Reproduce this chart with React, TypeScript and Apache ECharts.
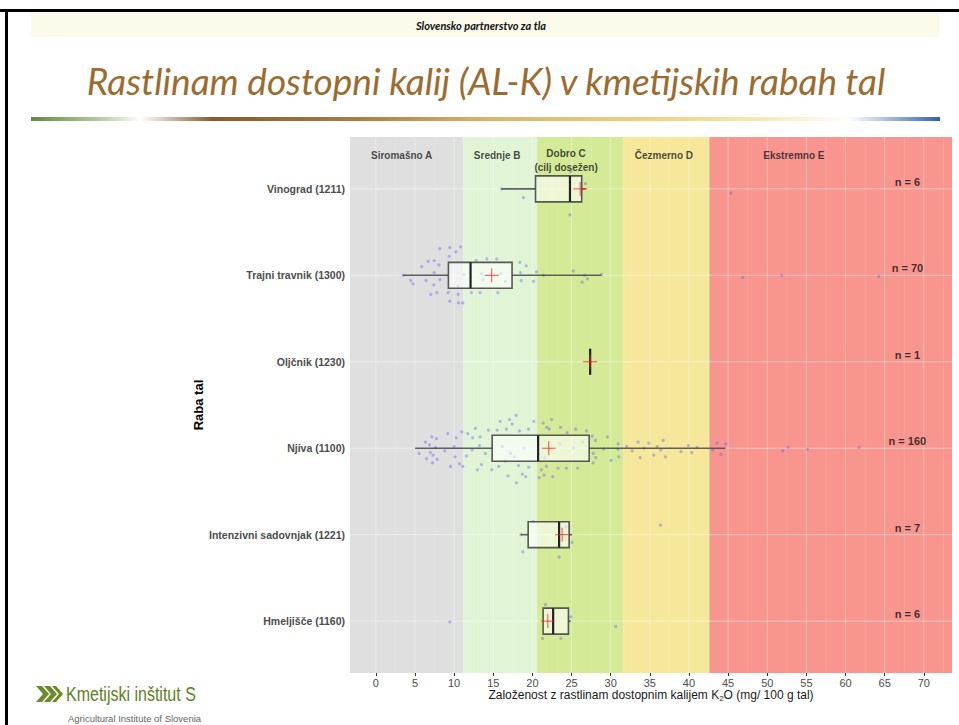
import React, { useEffect, useRef } from "react";
import * as echarts from "echarts";

// ---------- DATA ----------
const categories = [
  "Vinograd (1211)",
  "Trajni travnik (1300)",
  "Oljčnik (1230)",
  "Njiva (1100)",
  "Intenzivni sadovnjak (1221)",
  "Hmeljišče (1160)",
];
const countLabels = ["n = 6", "n = 70", "n = 1", "n = 160", "n = 7", "n = 6"];

// [lower whisker, Q1, median, Q3, upper whisker]
const boxStats = [
  [16.05, 20.4, 24.8, 26.3, 26.8],
  [3.5, 9.27, 12.1, 17.4, 28.8],
  [27.38, 27.38, 27.38, 27.38, 27.38],
  [5.02, 14.86, 20.73, 27.25, 44.66],
  [18.52, 19.46, 23.41, 24.69, 25.07],
  [21.37, 21.37, 22.65, 24.6, 24.9],
];
const means = [26.1, 14.8, 27.38, 22.09, 23.8, 21.97];

// jittered sample points: [value, vertical jitter in category units]
const vinogradPts = [[16.05, 0.0], [18.86, 0.1], [24.78, 0.3], [26.78, -0.06], [45.34, 0.05], [24.9, -0.2]];
const trajniPts = [
  [8.17, -0.31], [9.45, -0.32], [10.22, -0.27], [10.82, -0.33], [9.36, -0.22], [6.68, -0.16], [7.45, -0.17],
  [8.05, -0.12], [5.87, -0.1], [7.45, -0.03], [4.47, 0.06], [4.76, 0.1], [6.42, 0.06], [8.17, 0.05], [7.41, 0.11],
  [11.24, -0.01], [10.51, 0.13], [7.02, 0.22], [7.79, 0.2], [9.23, 0.2], [10.51, 0.22], [12.22, 0.2], [13.32, 0.2],
  [15.58, 0.2], [12.81, -0.17], [14.18, -0.19], [15.45, -0.19], [13.5, -0.02], [15.96, -0.02], [13.7, 0.05],
  [16.56, 0.07], [18.39, -0.15], [19.2, -0.11], [18.48, -0.03], [20.52, -0.04], [21.42, 0.0], [18.56, 0.06],
  [20.14, 0.07], [25.2, -0.05], [26.69, 0.0], [27.04, 0.04], [26.35, 0.08], [28.83, -0.01], [3.49, 0.0],
  [9.45, 0.3], [10.56, 0.32], [11.11, 0.32], [46.87, 0.02], [51.85, 0.0], [64.24, 0.01],
];
const oljcnikPts = [[27.38, 0.0]];
const njivaPts = [
  [5.53, 0.06], [6.34, -0.07], [6.86, -0.04], [7.15, -0.13], [7.75, -0.11], [6.98, 0.05], [6.47, 0.12],
  [7.83, 0.13], [7.32, 0.08], [7.24, 0.17], [7.62, -0.01], [8.81, 0.03], [9.19, -0.17], [10.0, -0.02],
  [10.26, -0.12], [10.13, 0.1], [9.54, 0.21], [10.68, 0.18], [11.11, 0.21], [10.98, -0.19], [11.58, 0.09],
  [11.75, -0.17], [12.38, -0.12], [12.3, 0.02], [12.72, -0.23], [13.32, -0.13], [13.24, -0.03], [13.49, 0.19],
  [12.98, 0.25], [14.0, 0.06], [14.39, -0.21], [14.81, 0.25], [15.88, -0.31], [15.49, -0.21], [16.68, -0.22],
  [17.07, -0.33], [17.41, -0.28], [17.92, -0.38], [18.35, -0.2], [19.5, -0.22], [20.18, -0.31], [16.51, 0.15],
  [15.71, 0.21], [16.89, 0.32], [17.96, 0.4], [18.21, 0.2], [18.72, 0.3], [19.53, 0.22], [19.15, 0.33],
  [20.85, 0.34], [21.15, 0.25], [21.79, 0.21], [21.49, 0.31], [22.6, 0.33], [23.28, 0.23], [24.34, 0.23],
  [25.79, 0.23], [21.38, -0.29], [21.85, -0.24], [22.45, -0.33], [22.15, -0.22], [23.58, -0.24], [24.43, -0.18],
  [25.54, -0.22], [26.91, -0.2], [27.63, -0.14], [28.05, -0.09], [27.76, 0.06], [28.1, 0.11], [27.76, 0.17],
  [29.12, 0.01], [29.59, -0.13], [30.06, 0.14], [30.95, -0.05], [30.91, 0.01], [31.03, 0.1], [32.05, -0.02],
  [32.74, 0.03], [33.5, -0.07], [33.76, 0.11], [34.27, 0.0], [34.87, -0.06], [35.5, 0.08], [35.93, -0.02],
  [36.4, 0.02], [36.7, -0.09], [36.99, 0.1], [38.99, 0.04], [39.93, -0.03], [40.36, 0.05], [41.04, -0.01],
  [16.14, -0.02], [17.2, 0.06], [18.94, 0.0], [17.71, 0.1], [25.24, 0.0], [23.5, -0.05], [26.45, -0.07],
  [21.58, 0.11], [43.6, -0.06], [44.7, -0.05], [43.04, 0.02], [44.06, 0.07], [51.98, 0.03], [52.66, -0.01],
  [55.13, 0.01], [61.73, -0.01],
];
const intenzivniPts = [[20.09, -0.15], [18.77, 0.2], [23.41, 0.26], [25.07, 0.09], [24.27, -0.09], [36.36, -0.11], [18.52, 0.0]];
const hmeljPts = [[21.67, -0.19], [24.9, -0.05], [21.29, 0.2], [23.63, 0.2], [9.45, 0.01], [30.65, 0.06]];
const pointsByCategory = [vinogradPts, trajniPts, oljcnikPts, njivaPts, intenzivniPts, hmeljPts];

// classes (bands) along the x axis
const xMin = -3.3;
const xMax = 73.6;
const bandNames = ["Siromašno A", "Srednje B", "Dobro C\n(cilj dosežen)", "Čezmerno D", "Ekstremno E"];
const bandRanges = [[xMin, 11.2], [11.2, 20.6], [20.6, 31.6], [31.6, 42.6], [42.6, xMax]];
const bandLabelX = [3.3, 15.5, 24.3, 36.8, 53.4];
const bandLabelY = [0.61, 0.61, 0.67, 0.61, 0.61];

const xTicks = [0, 5, 10, 15, 20, 25, 30, 35, 40, 45, 50, 55, 60, 65, 70];
const xMinorGrid = [2.5, 7.5, 12.5, 17.5, 22.5, 27.5, 32.5, 37.5, 42.5, 47.5, 52.5, 57.5, 62.5, 67.5, 72.5];
const yTicks = [1, 2, 3, 4, 5, 6];
const yMin = 0.4;
const yMax = 6.6;
const countLabelX = 67.9;
const countLabelDy = -0.08;

// ---------- STYLE ----------
const bandColors = ["#DFDFDF", "#E1F5D6", "#D4EA97", "#F6E79B", "#F7958E"];
const FONT = "'Liberation Sans', Arial, sans-serif";

export default function App() {
  const ref = useRef<HTMLDivElement>(null);

  useEffect(() => {
    if (!ref.current) return;
    const chart = echarts.init(ref.current, null, { renderer: "svg" });

    const pointData: number[][] = [];
    pointsByCategory.forEach((pts, i) => {
      pts.forEach((p) => pointData.push([p[0], i + 1 + p[1]]));
    });

    const option: any = {
      animation: false,
      backgroundColor: "#ffffff",
      grid: { left: 350, right: 7, top: 137, bottom: 52, containLabel: false },
      xAxis: {
        type: "value",
        min: xMin,
        max: xMax,
        axisLine: { show: false },
        splitLine: { show: false },
        axisTick: { show: true, customValues: xTicks, length: 3, lineStyle: { color: "#333333" } },
        axisLabel: { customValues: xTicks, color: "#4D4D4D", fontSize: 11, margin: 4, fontFamily: FONT },
        name: "Založenost z rastlinam dostopnim kalijem K{sub|2}O (mg/ 100 g tal)",
        nameLocation: "middle",
        nameGap: 15,
        nameMoveOverlap: false,
        nameTextStyle: {
          color: "#1A1A1A",
          fontSize: 12,
          fontFamily: FONT,
          lineHeight: 14,
          rich: { sub: { fontSize: 8, fontFamily: FONT, color: "#1A1A1A", padding: [6, 0, 0, 0] } },
        },
      },
      yAxis: {
        type: "value",
        min: yMin,
        max: yMax,
        inverse: true,
        axisLine: { show: false },
        splitLine: { show: false },
        axisTick: { show: true, customValues: yTicks, length: 3, lineStyle: { color: "#333333" } },
        axisLabel: {
          customValues: yTicks,
          formatter: (v: number) => categories[Math.round(v) - 1] ?? "",
          color: "#4D4D4D",
          fontSize: 10.5,
          fontWeight: "bold",
          margin: 5,
          fontFamily: FONT,
        },
        name: "Raba tal",
        nameLocation: "middle",
        nameRotate: 90,
        nameGap: 145,
        nameMoveOverlap: false,
        nameTextStyle: { color: "#000", fontSize: 13, fontWeight: "bold", fontFamily: FONT },
      },
      series: [
        {
          type: "custom",
          name: "bands",
          z: 1,
          silent: true,
          data: bandRanges.map((b, i) => [b[0], b[1], i]),
          renderItem: (params: any, api: any) => {
            const i = params.dataIndex;
            const b = bandRanges[i];
            const p0 = api.coord([b[0], yMin]);
            const p1 = api.coord([b[1], yMax]);
            return {
              type: "rect",
              shape: { x: p0[0], y: Math.min(p0[1], p1[1]), width: p1[0] - p0[0], height: Math.abs(p1[1] - p0[1]) },
              style: { fill: bandColors[i] },
            };
          },
        },
        {
          type: "custom",
          name: "grid",
          z: 2,
          silent: true,
          data: [...xTicks.map((v) => [v, 0]), ...xMinorGrid.map((v) => [v, 1]), ...yTicks.map((v) => [v, 2])],
          renderItem: (params: any, api: any) => {
            const v = api.value(0);
            const kind = api.value(1);
            if (kind === 2) {
              const a = api.coord([xMin, v]);
              const b = api.coord([xMax, v]);
              return {
                type: "line",
                shape: { x1: a[0], y1: a[1], x2: b[0], y2: b[1] },
                style: { stroke: "rgba(255,255,255,0.45)", lineWidth: 1 },
              };
            }
            const a = api.coord([v, yMin]);
            const b = api.coord([v, yMax]);
            return {
              type: "line",
              shape: { x1: a[0], y1: a[1], x2: b[0], y2: b[1] },
              style: { stroke: kind === 0 ? "rgba(255,255,255,0.35)" : "rgba(255,255,255,0.22)", lineWidth: kind === 0 ? 1 : 0.6 },
            };
          },
        },
        {
          type: "scatter",
          name: "points",
          z: 3,
          silent: true,
          symbolSize: 3.2,
          itemStyle: { color: "rgba(90,90,235,0.5)" },
          data: pointData,
        },
        {
          type: "custom",
          name: "boxes",
          z: 4,
          silent: true,
          data: boxStats.map((s, i) => [s[1], i + 1, s[0], s[2], s[3], s[4]]),
          renderItem: (params: any, api: any) => {
            const i = params.dataIndex;
            const [lo, q1, med, q3, hi] = boxStats[i];
            const y = i + 1;
            const h = 0.15;
            const top = api.coord([q1, y - h])[1];
            const bot = api.coord([q1, y + h])[1];
            const yc = api.coord([q1, y])[1];
            const xLo = api.coord([lo, y])[0];
            const xQ1 = api.coord([q1, y])[0];
            const xMed = api.coord([med, y])[0];
            const xQ3 = api.coord([q3, y])[0];
            const xHi = api.coord([hi, y])[0];
            const xMean = api.coord([means[i], y])[0];
            const children: any[] = [
              { type: "line", shape: { x1: xLo, y1: yc, x2: xQ1, y2: yc }, style: { stroke: "rgba(60,60,60,0.8)", lineWidth: 1.6 } },
              { type: "line", shape: { x1: xQ3, y1: yc, x2: xHi, y2: yc }, style: { stroke: "rgba(60,60,60,0.8)", lineWidth: 1.6 } },
              {
                type: "rect",
                shape: { x: xQ1, y: top, width: xQ3 - xQ1, height: bot - top },
                style: { fill: "rgba(255,255,255,0.6)", stroke: "rgba(60,60,60,0.85)", lineWidth: 1.6 },
              },
              { type: "line", shape: { x1: xMed, y1: top, x2: xMed, y2: bot }, style: { stroke: "#222222", lineWidth: 2.2 } },
              { type: "line", shape: { x1: xMean - 7, y1: yc, x2: xMean + 7, y2: yc }, style: { stroke: "rgba(255,30,30,0.8)", lineWidth: 1 } },
              { type: "line", shape: { x1: xMean, y1: yc - 7, x2: xMean, y2: yc + 7 }, style: { stroke: "rgba(255,30,30,0.8)", lineWidth: 1 } },
            ];
            return { type: "group", children };
          },
        },
        {
          type: "scatter",
          name: "bandLabels",
          z: 5,
          silent: true,
          symbolSize: 0,
          data: bandNames.map((n, i) => ({ value: [bandLabelX[i], bandLabelY[i]], name: n })),
          label: {
            show: true,
            position: "inside",
            formatter: (p: any) => p.name,
            color: "#1A1A1A",
            fontSize: 10,
            fontWeight: "bold",
            fontFamily: FONT,
            lineHeight: 14,
            align: "center",
          },
        },
        {
          type: "scatter",
          name: "counts",
          z: 5,
          silent: true,
          symbolSize: 0,
          data: countLabels.map((n, i) => ({ value: [countLabelX, i + 1 + countLabelDy], name: n })),
          label: {
            show: true,
            position: "inside",
            formatter: (p: any) => p.name,
            color: "#111111",
            fontSize: 11,
            fontWeight: "bold",
            fontFamily: FONT,
          },
        },
      ],
      graphic: [
        { type: "rect", z: 0, shape: { x: 0, y: 9, width: 959, height: 3 }, style: { fill: "#000" } },
        { type: "rect", z: 0, shape: { x: 5, y: 9, width: 3, height: 716 }, style: { fill: "#000" } },
        { type: "rect", z: 0, shape: { x: 31, y: 12, width: 908, height: 25 }, style: { fill: "#FCFAEB" } },
        {
          type: "text",
          x: 481,
          y: 25,
          style: {
            text: "Slovensko partnerstvo za tla",
            font: "italic bold 11px Lato, sans-serif",
            fill: "#111",
            textAlign: "center",
            textVerticalAlign: "middle",
          },
        },
        {
          type: "text",
          x: 486,
          y: 80,
          style: {
            text: "Rastlinam dostopni kalij (AL-K) v kmetijskih rabah tal",
            font: "italic 37px Lato, sans-serif",
            fill: "#9C6B30",
            textAlign: "center",
            textVerticalAlign: "middle",
          },
        },
        {
          type: "rect",
          shape: { x: 31, y: 117, width: 909, height: 4 },
          style: {
            fill: new echarts.graphic.LinearGradient(0, 0, 1, 0, [
              { offset: 0, color: "#5E8C3A" },
              { offset: 0.08, color: "#BCD0AA" },
              { offset: 0.12, color: "#FFFFFF" },
              { offset: 0.2, color: "#8A5A2E" },
              { offset: 0.35, color: "#A87A45" },
              { offset: 0.5, color: "#D7B46A" },
              { offset: 0.68, color: "#EDD27E" },
              { offset: 0.8, color: "#F5E8B4" },
              { offset: 0.9, color: "#FFFFFF" },
              { offset: 1, color: "#2F63B5" },
            ]),
          },
        },
        // logo chevrons
        { type: "polygon", shape: { points: [[36, 686], [42, 686], [49, 694], [42, 702], [36, 702], [43, 694]] }, style: { fill: "#6B8A2A" } },
        { type: "polygon", shape: { points: [[44, 686], [50, 686], [57, 694], [50, 702], [44, 702], [51, 694]] }, style: { fill: "#6B8A2A" } },
        { type: "polygon", shape: { points: [[52, 686], [56, 686], [63, 694], [56, 702], [52, 702], [59, 694]] }, style: { fill: "#6B8A2A" } },
        {
          type: "text",
          x: 66,
          y: 694,
          scaleX: 0.8,
          style: {
            text: "Kmetijski inštitut S",
            font: "20px 'Liberation Sans', Arial, sans-serif",
            fill: "#5E7F22",
            textVerticalAlign: "middle",
          },
        },
        {
          type: "text",
          x: 68,
          y: 718,
          style: {
            text: "Agricultural Institute of Slovenia",
            font: "9.5px 'Liberation Sans', Arial, sans-serif",
            fill: "#666",
            textVerticalAlign: "middle",
          },
        },
      ],
    };

    chart.setOption(option);
    return () => chart.dispose();
  }, []);

  return <div ref={ref} style={{ position: "fixed", left: 0, top: 0, width: 959, height: 725 }} />;
}
